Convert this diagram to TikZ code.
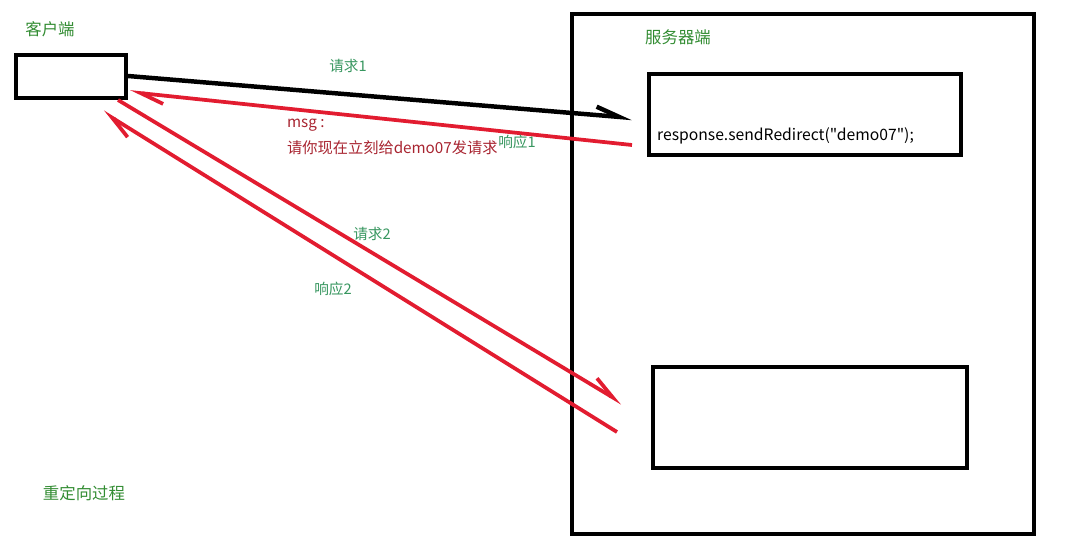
\documentclass[tikz,border=0pt]{standalone}
\usepackage{fontspec}
\setmainfont{Noto Sans CJK SC}[Ligatures=TeXOff]
\usetikzlibrary{arrows.meta}

\definecolor{titlegreen}{RGB}{50,140,50}
\definecolor{labelgreen}{RGB}{55,150,95}
\definecolor{linered}{RGB}{226,28,48}
\definecolor{msgred}{RGB}{168,36,48}

\tikzset{
  box/.style={draw=black, line width=3.3pt, inner sep=0pt, anchor=north west},
  title/.style={font=\fontsize{14}{16}\selectfont, text=titlegreen},
  lbl/.style={font=\fontsize{12.5}{14}\selectfont, text=labelgreen},
  msg/.style={font=\fontsize{13}{15}\selectfont, text=msgred, anchor=west},
  barb/.tip={Straight Barb[harpoon, length=7mm, width=5mm]},
  req/.style={line width=3.2pt, -barb},
}

\begin{document}
\begin{tikzpicture}[x=0.03cm, y=-0.03cm]
  \useasboundingbox (0,0) rectangle (1071,553);

  % --- client side ---
  \node[box, minimum width=3.3cm, minimum height=1.29cm] (client) at (14,53) {};
  \node[title] (clientlbl) at (50,29) {客户端};

  % --- server side ---
  \node[box, minimum width=13.85cm, minimum height=15.6cm] (server) at (570,12) {};
  \node[title] (serverlbl) at (678,37) {服务器端};
  \node[box, minimum width=9.36cm, minimum height=2.43cm] (demo1) at (647,72) {};
  \node[font=\fontsize{13.4}{15}\selectfont, anchor=west] (redirect) at (653,136)
    {response.sendRedirect("demo07");};
  \node[box, minimum width=9.42cm, minimum height=3.03cm] (demo2) at (651,365) {};

  % arrow end points (hand drawn, so not on the box borders)
  \coordinate (req1s) at (128,76);
  \coordinate (req1e) at (632,118);
  \coordinate (res1s) at (632,145);
  \coordinate (res1e) at (130,92);
  \coordinate (req2s) at (118,100);
  \coordinate (req2e) at (622,403);
  \coordinate (res2s) at (617,432);
  \coordinate (res2e) at (103,112);

  % --- first round trip ---
  \draw[req, black, line width=3.8pt] (req1s) -- (req1e);
  \draw[req, linered] (res1s) -- (res1e);
  \node[lbl] (req1lbl) at (348,66) {请求1};
  \node[lbl] (res1lbl) at (517,142) {响应1};
  \node[msg] (msghead) at (283,125) {msg :};
  \node[msg] (msgbody) at (283,148) {请你现在立刻给demo07发请求};

  % --- second round trip ---
  \draw[req, linered] (req2s) -- (req2e);
  \draw[req, linered] (res2s) -- (res2e);
  \node[lbl] (req2lbl) at (372,234) {请求2};
  \node[lbl] (res2lbl) at (333,289) {响应2};

  \node[title] (caption) at (84,493) {重定向过程};
\end{tikzpicture}
\end{document}
